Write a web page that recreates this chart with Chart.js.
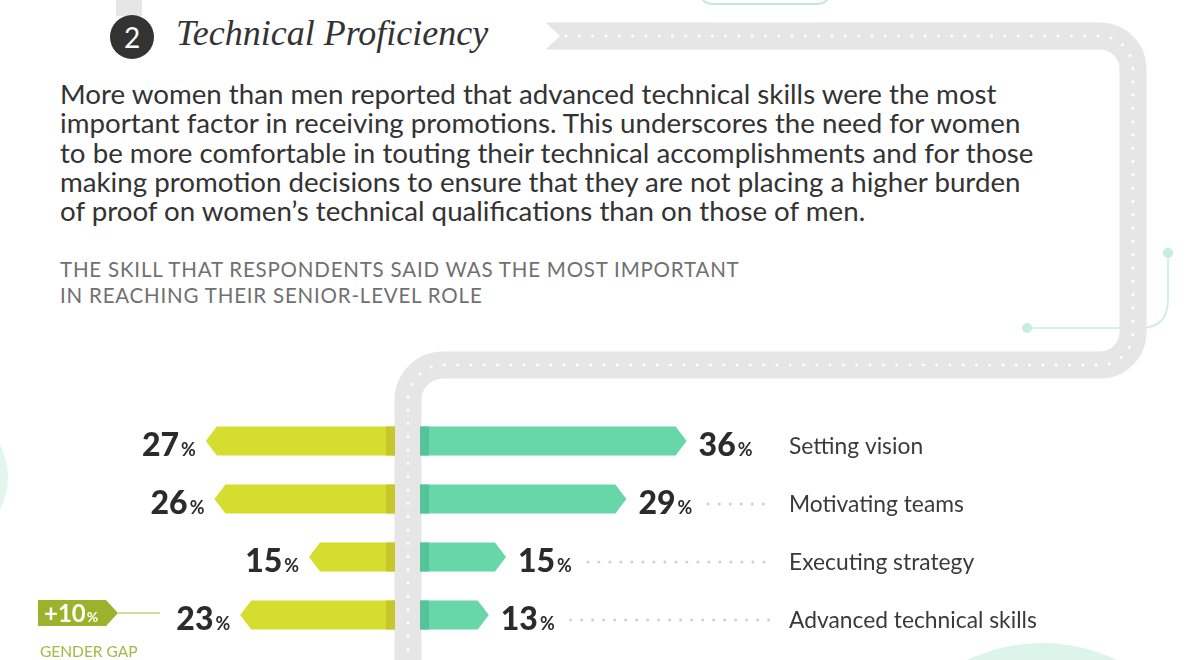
<!DOCTYPE html>
<html lang="en">
<head>
<meta charset="UTF-8">
<title>Technical Proficiency</title>
<script src="https://cdn.jsdelivr.net/npm/chart.js"></script>
<style>
    body { margin: 0; background: #fff; }
    .page { position: relative; width: 1200px; height: 660px; overflow: hidden; background: #fff; }
    .deco { position: absolute; left: 0; top: 0; }
    .badge { position: absolute; left: 110px; top: 15px; width: 44px; height: 44px; border-radius: 50%;
             background: #333; color: #fff; font: 400 28px Lato, sans-serif; text-align: center; line-height: 44px; }
    .title { position: absolute; left: 176px; top: 12px; font: italic 36px "Liberation Serif", serif; color: #333; white-space: nowrap; }
    .intro { position: absolute; left: 60px; top: 79px; font: 400 27.7px Lato, sans-serif; color: #333; line-height: 29.3px; white-space: nowrap; }
    .sub { position: absolute; left: 60px; top: 256px; font: 400 20.5px Lato, sans-serif; letter-spacing: 0.8px; color: #707070; line-height: 26px; white-space: nowrap; }
    canvas { position: absolute; }
</style>
</head>
<body>
<div class="page">
    <svg class="deco" width="1200" height="660">
        <!-- soft background shapes -->
        <circle cx="-62" cy="477" r="70" fill="#e2f6ee"/>
        <circle cx="1042" cy="817" r="174" fill="#dcf4e9"/>
        <path d="M703 0 Q706 4 714 4 H816 Q824 4 827 0" stroke="#bfe9d8" stroke-width="2" fill="none"/>
        <!-- connector on the right -->
        <path d="M1027 328 H1140 Q1168 328 1168 300 V253" stroke="#c6eedf" stroke-width="1.6" fill="none"/>
        <circle cx="1027" cy="328" r="5" fill="#c6eedf"/>
        <circle cx="1168" cy="253" r="5" fill="#c6eedf"/>
        <!-- road -->
        <rect x="116" y="0" width="26" height="16" fill="#e6e6e6"/>
        <path d="M545 36 H1100 A33 33 0 0 1 1133 69 V332 A33 33 0 0 1 1100 365 H443 A35 35 0 0 0 408 400 V660"
              stroke="#e6e6e6" stroke-width="27" fill="none"/>
        <path d="M566 36 H1100 A33 33 0 0 1 1133 69 V332 A33 33 0 0 1 1100 365 H443 A35 35 0 0 0 408 400 V660"
              stroke="#fff" stroke-width="3" stroke-dasharray="0 13.3" stroke-linecap="round" fill="none"/>
        <polygon points="544,21 560,36 544,51" fill="#fff"/>
    </svg>

    <div class="badge">2</div>
    <div class="title">Technical Proficiency</div>
    <div class="intro">
        <div>More women than men reported that advanced technical skills were the most</div>
        <div>important factor in receiving promotions. This underscores the need for women</div>
        <div>to be more comfortable in touting their technical accomplishments and for those</div>
        <div>making promotion decisions to ensure that they are not placing a higher burden</div>
        <div>of proof on women’s technical qualifications than on those of men.</div>
    </div>
    <div class="sub">
        <div>THE SKILL THAT RESPONDENTS SAID WAS THE MOST IMPORTANT</div>
        <div>IN REACHING THEIR SENIOR-LEVEL ROLE</div>
    </div>

    <canvas id="womenChart" width="395" height="252" style="left:0; top:412px;"></canvas>
    <canvas id="menChart" width="780" height="252" style="left:420px; top:412px;"></canvas>
</div>

<script>
    // data
    const categories = ['Setting vision', 'Motivating teams', 'Executing strategy', 'Advanced technical skills'];
    const women = [27, 26, 15, 23];
    const men = [36, 29, 15, 13];
    const gapIndex = 3;
    const gapText = '+10';

    const NUM_FONT = '900 32px Lato, sans-serif';
    const PCT_FONT = '700 18px Lato, sans-serif';
    const TEXT = '#2b2b2b';

    // draws the arrow-shaped bars, the value labels and the extras
    const arrowBars = {
        id: 'arrowBars',
        afterDatasetsDraw(chart, args, opts) {
            const ctx = chart.ctx;
            const area = chart.chartArea;
            const meta = chart.getDatasetMeta(0);
            const values = chart.data.datasets[0].data;
            const left = opts.side === 'left';
            const dir = left ? -1 : 1;
            ctx.save();
            meta.data.forEach((bar, i) => {
                const p = bar.getProps(['x', 'y', 'height'], true);
                const base = left ? area.right : area.left;
                const h = p.height / 2;
                const tip = 11;
                ctx.fillStyle = opts.color;
                ctx.beginPath();
                ctx.moveTo(base, p.y - h);
                ctx.lineTo(p.x - dir * tip, p.y - h);
                ctx.lineTo(p.x, p.y);
                ctx.lineTo(p.x - dir * tip, p.y + h);
                ctx.lineTo(base, p.y + h);
                ctx.closePath();
                ctx.fill();
                ctx.fillStyle = opts.edge;
                ctx.fillRect(left ? base - 9 : base, p.y - h, 9, p.height);

                // value label
                const num = String(values[i]);
                ctx.font = NUM_FONT;
                const nw = ctx.measureText(num).width;
                ctx.font = PCT_FONT;
                const pw = ctx.measureText('%').width;
                const ty = p.y + 15;
                let start = left ? p.x - 10 - nw - 2 - pw : p.x + 12;
                ctx.fillStyle = TEXT;
                ctx.textBaseline = 'alphabetic';
                ctx.textAlign = 'left';
                ctx.font = NUM_FONT;
                ctx.fillText(num, start, ty);
                ctx.font = PCT_FONT;
                ctx.fillText('%', start + nw + 2, ty);
                const end = start + nw + 2 + pw;

                if (!left) {
                    // dotted leader and category
                    ctx.fillStyle = '#cfcfcf';
                    for (let dx = end + 16; dx < 352 && end < 330; dx += 11) {
                        ctx.beginPath();
                        ctx.arc(dx, p.y + 5, 1.5, 0, Math.PI * 2);
                        ctx.fill();
                    }
                    ctx.fillStyle = '#3a3a3a';
                    ctx.font = '400 22.8px Lato, sans-serif';
                    ctx.fillText(chart.data.labels[i], 369, p.y + 13);
                } else if (i === opts.gapIndex) {
                    // gender gap tag
                    const gy = p.y - 2;
                    ctx.strokeStyle = '#a5b53a';
                    ctx.lineWidth = 1.2;
                    ctx.beginPath();
                    ctx.moveTo(118, gy);
                    ctx.lineTo(160, gy);
                    ctx.stroke();
                    ctx.fillStyle = '#9cb22c';
                    ctx.beginPath();
                    ctx.moveTo(38, gy - 13);
                    ctx.lineTo(106, gy - 13);
                    ctx.lineTo(118, gy);
                    ctx.lineTo(106, gy + 13);
                    ctx.lineTo(38, gy + 13);
                    ctx.closePath();
                    ctx.fill();
                    ctx.fillStyle = '#fff';
                    ctx.font = '700 24px Lato, sans-serif';
                    const gw = ctx.measureText(opts.gapText).width;
                    ctx.fillText(opts.gapText, 44, gy + 9);
                    ctx.font = '700 14px Lato, sans-serif';
                    ctx.fillText('%', 44 + gw + 1, gy + 9);
                    ctx.fillStyle = '#a6b745';
                    ctx.font = '400 15.5px Lato, sans-serif';
                    ctx.fillText('GENDER GAP', 40, gy + 44);
                }
            });
            ctx.restore();
        }
    };

    function makeChart(id, values, side, padding, max, color, edge) {
        return new Chart(document.getElementById(id), {
            type: 'bar',
            data: {
                labels: categories,
                datasets: [{ data: values, backgroundColor: 'rgba(0,0,0,0)', barThickness: 29 }]
            },
            options: {
                indexAxis: 'y',
                responsive: false,
                animation: false,
                layout: { padding: padding },
                plugins: {
                    legend: { display: false },
                    tooltip: { enabled: false },
                    arrowBars: { side: side, color: color, edge: edge, gapIndex: gapIndex, gapText: gapText }
                },
                scales: {
                    x: { display: false, min: 5, max: max, reverse: side === 'left' },
                    y: { display: false, offset: true }
                }
            },
            plugins: [arrowBars]
        });
    }

    makeChart('womenChart', women, 'left', { left: 180, right: 0, top: 0, bottom: 20 }, 30, '#d5dd2f', '#c6c72b');
    makeChart('menChart', men, 'right', { left: 0, right: 479, top: 0, bottom: 20 }, 40, '#67d7aa', '#55c49b');
</script>
</body>
</html>
